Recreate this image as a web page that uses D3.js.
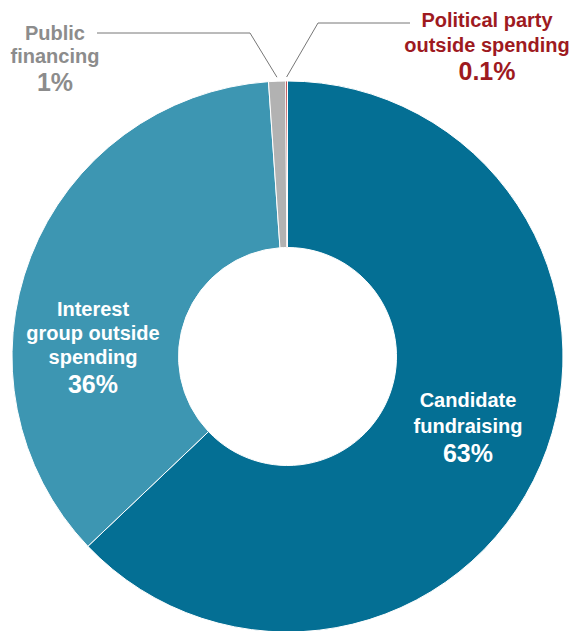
<!DOCTYPE html>
<html>
<head>
<meta charset="utf-8">
<script src="https://cdn.jsdelivr.net/npm/d3@7"></script>
<style>
  html, body { margin: 0; padding: 0; background: #fff; }
  svg { display: block; }
  text { font-family: "Liberation Sans", "Arial", sans-serif; font-weight: 700; }
</style>
</head>
<body>
<svg id="chart" width="574" height="631"></svg>
<script>
// ---- data ----
const categories = ["Candidate fundraising", "Interest group outside spending", "Public financing", "Political party outside spending"];
const values = [62.9, 36.0, 1.0, 0.1];
const labelLines = [["Candidate", "fundraising"], ["Interest", "group outside", "spending"], ["Public", "financing"], ["Political party", "outside spending"]];
const percentLabels = ["63%", "36%", "1%", "0.1%"];

// ---- styling / layout ----
const colors = ["#046f94", "#3d96b2", "#b2b2b2", "#a3161c"];
const textColors = ["#ffffff", "#ffffff", "#8c8c8c", "#9e1a1f"];
const width = 574, height = 631;
const cx = 287.5, cy = 356.5;
const outerR = 275.5, innerR = 109;
// label anchors (center x, first-line baseline y)
const labelPos = [[468, 407], [93, 316], [55, 40], [487, 27]];
const lineH = [26, 24, 23, 25];
const pctGap = [3, 5, 5, 3];
// leader lines: elbow point and horizontal end for external labels
const leaders = { 2: { elbow: [250, 33], end: [97, 33] }, 3: { elbow: [318, 23], end: [410, 23] } };

const svg = d3.select("#chart");
const g = svg.append("g").attr("transform", `translate(${cx},${cy})`);

const data = categories.map((c, i) => ({ name: c, value: values[i], i }));
const pie = d3.pie().value(d => d.value).sort(null);
const arcs = pie(data);
const arc = d3.arc().innerRadius(innerR).outerRadius(outerR);

g.selectAll("path.slice")
  .data(arcs)
  .join("path")
  .attr("class", "slice")
  .attr("d", arc)
  .attr("fill", d => colors[d.data.i])
  .attr("stroke", "#fff")
  .attr("stroke-width", 1);

// leader lines
const leaderArc = d3.arc().innerRadius(outerR + 4).outerRadius(outerR + 4);
Object.keys(leaders).forEach(k => {
  const a = arcs[+k];
  const p = leaderArc.centroid(a);
  const start = [p[0] + cx, p[1] + cy];
  const L = leaders[k];
  svg.append("polyline")
    .attr("points", [start, L.elbow, L.end].map(q => q.join(",")).join(" "))
    .attr("fill", "none")
    .attr("stroke", "#777")
    .attr("stroke-width", 1);
});

// labels
arcs.forEach((a, i) => {
  const [x, y] = labelPos[i];
  const t = svg.append("text")
    .attr("text-anchor", "middle")
    .attr("fill", textColors[i]);
  labelLines[i].forEach((ln, j) => {
    t.append("tspan")
      .attr("x", x)
      .attr("y", y + j * lineH[i])
      .attr("font-size", 20)
      .text(ln);
  });
  t.append("tspan")
    .attr("x", x)
    .attr("y", y + labelLines[i].length * lineH[i] + pctGap[i])
    .attr("font-size", 25)
    .text(percentLabels[i]);
});
</script>
</body>
</html>
